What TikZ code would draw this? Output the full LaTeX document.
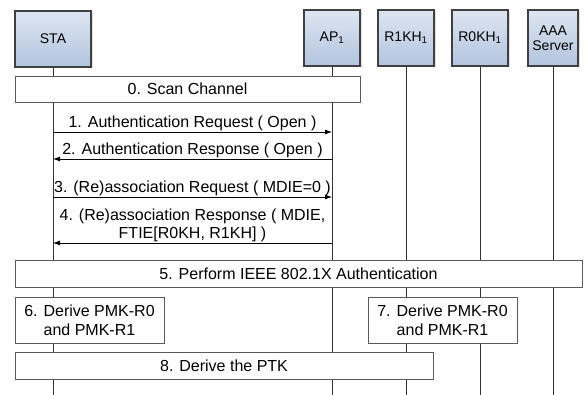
\documentclass[tikz,border=0pt]{standalone}
\usepackage{fontspec}
\setmainfont{Liberation Sans}
\usepackage{tikz}
\usetikzlibrary{arrows.meta}
\usetikzlibrary{shadows}

\definecolor{headtop}{HTML}{DDE5F1}
\definecolor{headbot}{HTML}{B3C4DE}

\begin{document}
\begin{tikzpicture}[
        x=1pt, y=-1pt,
        entity/.style={draw=black!75, line width=1.1pt, top color=headtop, bottom color=headbot,
            minimum height=56, align=center, font=\fontsize{14}{15}\selectfont,
            drop shadow={shadow xshift=1.5pt, shadow yshift=-1.5pt, opacity=0.25}},
        lifeline/.style={draw=black!80, line width=0.8pt},
        msg/.style={-{Latex[length=7pt, width=5pt]}, line width=0.8pt},
        stepbox/.style={draw=black!65, fill=white, line width=0.8pt, align=center,
            font=\fontsize{16}{19}\selectfont},
        lbl/.style={font=\fontsize{16}{18}\selectfont, inner sep=0pt, align=center}
    ]
        \useasboundingbox (0,0) rectangle (585,395);

        % Cabeceras
        \node[entity, minimum width=76] (sta)  at (53,39)  {STA};
        \node[entity, minimum width=56] (ap)   at (332,38) {AP\textsubscript{1}};
        \node[entity, minimum width=56] (r1kh) at (406,38) {R1KH\textsubscript{1}};
        \node[entity, minimum width=56] (r0kh) at (480,38) {R0KH\textsubscript{1}};
        \node[entity, minimum width=50] (aaa)  at (553,38) {AAA\\Server};

        % Lineas de vida
        \coordinate (bottom) at (0,395);
        \foreach \n in {sta, ap, r1kh, r0kh, aaa}
            \draw[lifeline] (\n.south) -- (\n |- bottom);

        % Pasos
        \node[stepbox, minimum width=345, minimum height=26] (scan) at (187.5,89) {0. Scan Channel};

        \draw[msg] (sta |- 0,132) -- (ap |- 0,132)
            node[lbl, midway, above=1pt] {1. Authentication Request ( Open )};
        \draw[msg] (ap |- 0,159) -- (sta |- 0,159)
            node[lbl, midway, above=1pt] {2. Authentication Response ( Open )};
        \draw[msg] (sta |- 0,197) -- (ap |- 0,197)
            node[lbl, midway, above=1pt] {3. (Re)association Request ( MDIE=0 )};
        \draw[msg] (ap |- 0,243) -- (sta |- 0,243)
            node[lbl, midway, above=1pt] {4. (Re)association Response ( MDIE,\\FTIE[R0KH, R1KH] )};

        \node[stepbox, minimum width=567, minimum height=27] (auth) at (298.5,273.5) {5. Perform IEEE 802.1X Authentication};
        \node[stepbox, minimum width=149, minimum height=46] (pmksta) at (89.5,320) {6. Derive PMK-R0\\and PMK-R1};
        \node[stepbox, minimum width=149, minimum height=46] (pmkkh) at (442.5,320) {7. Derive PMK-R0\\and PMK-R1};
        \node[stepbox, minimum width=418, minimum height=27] (ptk) at (224,365.5) {8. Derive the PTK};
    \end{tikzpicture}
\end{document}
